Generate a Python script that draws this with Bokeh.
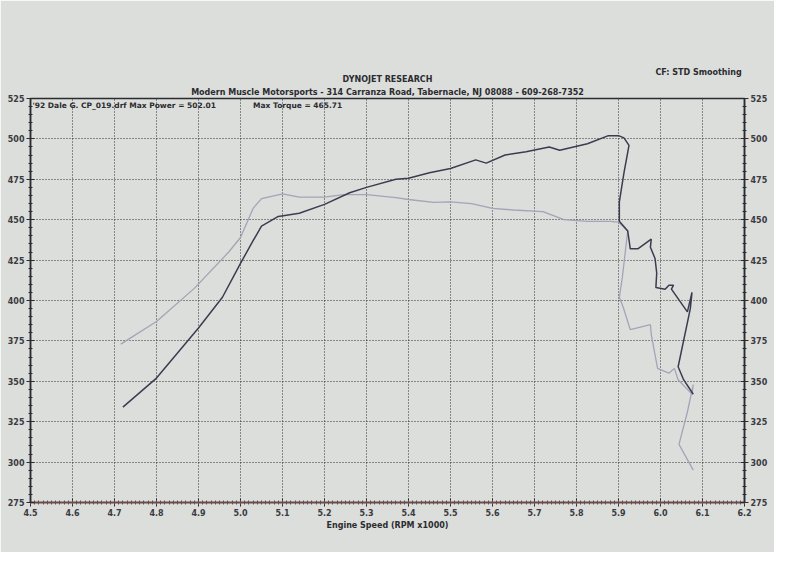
from bokeh.plotting import figure
from bokeh.models import (LinearAxis, SingleIntervalTicker, PrintfTickFormatter,
                          Title, Label, Range1d)
from bokeh.embed import file_html
from bokeh.resources import INLINE

# ---- data read from the dyno sheet (RPM x1000) ----
power_rpm = [4.72, 4.80, 4.90, 4.957, 5.00, 5.03, 5.05, 5.09, 5.14, 5.20, 5.26, 5.30,
             5.37, 5.40, 5.45, 5.50, 5.56, 5.585, 5.63, 5.68, 5.735, 5.76, 5.826, 5.876,
             5.90, 5.913, 5.925, 5.913, 5.902, 5.902, 5.922, 5.928, 5.946, 5.978, 5.976,
             5.987, 5.991, 5.989, 6.011, 6.02, 6.031, 6.026, 6.064, 6.075, 6.071, 6.042,
             6.055, 6.078]
power_hp = [334, 352, 383, 402, 423, 437, 446, 452, 454, 459.5, 466.7, 470,
            475, 475.6, 479, 481.7, 487, 485, 490, 492, 495, 493, 497, 502,
            502, 500.6, 496, 479, 461, 449, 443, 432, 432, 438, 433,
            426, 417, 408, 407, 409.5, 409.5, 407, 393, 405, 395, 359,
            351, 342]

torque_rpm = [4.715, 4.80, 4.89, 4.972, 5.00, 5.03, 5.05, 5.10, 5.14, 5.20, 5.245, 5.30,
              5.37, 5.40, 5.46, 5.50, 5.55, 5.60, 5.65, 5.72, 5.77, 5.826, 5.88, 5.90,
              5.922, 5.917, 5.909, 5.902, 5.911, 5.928, 5.976, 5.978, 5.993, 6.02, 6.033,
              6.042, 6.064, 6.075, 6.078, 6.064, 6.044, 6.078]
torque_lbft = [373, 387, 407.5, 430, 439, 457, 463, 466, 464, 464, 465.5, 465.5,
               463.7, 462.5, 460.7, 461, 460, 457, 456, 455, 450, 449, 449, 448.5,
               443, 432, 414, 402, 396, 382, 385, 379, 358, 355, 358,
               351, 345, 342, 348, 331, 311, 295]

header_1 = "DYNOJET RESEARCH"
header_2 = "Modern Muscle Motorsports - 314 Carranza Road, Tabernacle, NJ 08088 - 609-268-7352"
header_cf = "CF: STD  Smoothing"
run_text = "'92 Dale G. CP_019.drf Max Power = 502.01"
torque_text = "Max Torque = 465.71"
x_label = "Engine Speed (RPM x1000)"

PAPER = "#dcdedb"
INK = "#2b2b30"
FONT = "DejaVu Sans"

p = figure(width=774, height=552, output_backend="svg", toolbar_location=None,
           x_range=Range1d(4.5, 6.2), y_range=Range1d(275, 525),
           min_border_left=30, min_border_right=30, min_border_top=98,
           min_border_bottom=50)
p.background_fill_color = PAPER
p.border_fill_color = PAPER
p.outline_line_color = INK
p.outline_line_width = 1.5

# outermost title: CF line (right aligned), pulled down toward the header rows
p.title.text = header_cf
p.title.align = "right"
p.title.text_font = FONT
p.title.text_font_size = "8px"
p.title.text_font_style = "bold"
p.title.text_color = INK
p.title.standoff = -8
# added titles: first added sits closest to the frame
t2 = Title(text=header_2, align="center", text_font=FONT, text_font_size="8px",
           text_font_style="bold", text_color=INK, standoff=3)
p.add_layout(t2, "above")
t1 = Title(text=header_1, align="center", text_font=FONT, text_font_size="8px",
           text_font_style="bold", text_color=INK, standoff=1)
p.add_layout(t1, "above")

xt = SingleIntervalTicker(interval=0.1, num_minor_ticks=10)
yt = SingleIntervalTicker(interval=25, num_minor_ticks=5)

p.xaxis.ticker = xt
p.yaxis.ticker = yt
p.xaxis.formatter = PrintfTickFormatter(format="%.1f")
p.yaxis.formatter = PrintfTickFormatter(format="%d")
p.xaxis.axis_label = x_label

ry = LinearAxis(ticker=yt, formatter=PrintfTickFormatter(format="%d"))
p.add_layout(ry, "right")

for ax in p.axis:
    ax.axis_line_color = INK
    ax.axis_line_width = 1.5
    ax.major_tick_line_color = INK
    ax.minor_tick_line_color = INK
    ax.major_tick_in = 4
    ax.major_tick_out = 4
    ax.minor_tick_in = 2
    ax.minor_tick_out = 2
    ax.major_label_text_font = FONT
    ax.major_label_text_font_size = "8px"
    ax.major_label_text_font_style = "bold"
    ax.major_label_text_color = "#3a3a40"
    ax.major_label_standoff = 2
    ax.axis_label_text_font = FONT
    ax.axis_label_text_font_size = "8px"
    ax.axis_label_text_font_style = "bold"
    ax.axis_label_text_color = INK
    ax.axis_label_standoff = 2

p.xaxis[0].axis_line_color = "#6e4a4a"
p.xaxis[0].minor_tick_line_color = "#6e4a4a"

for g in (p.xgrid, p.ygrid):
    g.grid_line_color = "#1e1e1e"
    g.grid_line_dash = "1 2"
    g.grid_line_width = 1
    g.grid_line_alpha = 0.9
p.xgrid.ticker = xt
p.ygrid.ticker = yt

p.line(torque_rpm, torque_lbft, line_color="#a4a3b8", line_width=1.3)
p.line(power_rpm, power_hp, line_color="#3a3c50", line_width=1.5)

p.add_layout(Label(x=4.5, y=525, text=run_text, text_font=FONT, text_font_size="7.5px",
                   text_font_style="bold", text_color=INK, text_baseline="top",
                   x_offset=2, y_offset=-2))
p.add_layout(Label(x=5.03, y=525, text=torque_text, text_font=FONT, text_font_size="7.5px",
                   text_font_style="bold", text_color=INK, text_baseline="top",
                   y_offset=-2))

open("out.html", "w").write(file_html(p, INLINE))
